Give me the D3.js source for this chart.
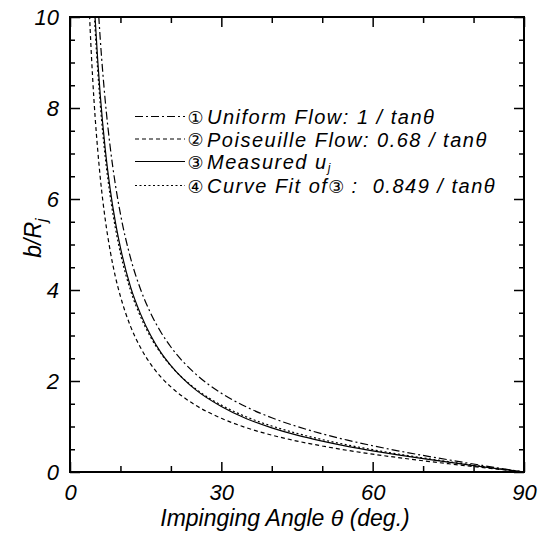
<!DOCTYPE html>
<html><head><meta charset="utf-8">
<script src="https://cdn.jsdelivr.net/npm/d3@7"></script>
<style>
body{margin:0;background:#fff}
text{font-family:"Liberation Sans",Arial,sans-serif;font-style:italic;fill:#000}
</style></head>
<body><svg id="c" width="552" height="537"></svg>
<script>
// Angles (deg.) and b/Rj values
const angles   = [3.5,4,4.5,5,5.5,6,7,8,9,10,12,14,16,18,20,25,30,35,40,45,50,55,60,65,70,75,80,85,90];
const uniform  = [16.35,14.30,12.71,11.43,10.39,9.514,8.144,7.115,6.314,5.671,4.705,4.011,3.487,3.078,2.747,2.145,1.732,1.428,1.192,1.000,0.839,0.700,0.577,0.466,0.364,0.268,0.176,0.087,0];
const poiseuille=[11.12,9.72,8.64,7.77,7.07,6.47,5.54,4.84,4.29,3.86,3.20,2.73,2.37,2.09,1.87,1.46,1.18,0.971,0.810,0.680,0.571,0.476,0.393,0.317,0.247,0.182,0.120,0.059,0];
const measured = [14.2,12.44,11.06,9.94,9.04,8.28,7.08,6.19,5.49,4.93,4.07,3.47,3.00,2.63,2.34,1.80,1.44,1.17,0.97,0.81,0.68,0.565,0.465,0.375,0.292,0.215,0.142,0.07,0];
const curveFit = [13.88,12.14,10.79,9.70,8.82,8.08,6.91,6.04,5.36,4.81,3.99,3.41,2.96,2.61,2.33,1.82,1.47,1.21,1.01,0.849,0.712,0.594,0.490,0.396,0.309,0.227,0.150,0.074,0];

const xMajor = [0,30,60,90];
const xMinor = [10,20,40,50,70,80];
const yMajor = [0,2,4,6,8,10];
const yMinor = [0.5,1,1.5,2.5,3,3.5,4.5,5,5.5,6.5,7,7.5,8.5,9,9.5];

const seriesNames = ["Uniform Flow: 1 / tan\u03B8","Poiseuille Flow: 0.68 / tan\u03B8","Measured u","Curve Fit of"];
const circled = ["\u2460","\u2461","\u2462","\u2463"];

const L=70,R=524,T=17,B=472;
const svg=d3.select("#c");
const x=d3.scaleLinear().domain([0,90]).range([L,R]);
const y=d3.scaleLinear().domain([0,10]).range([B,T]);

svg.append("clipPath").attr("id","clip").append("rect").attr("x",L).attr("y",T).attr("width",R-L).attr("height",B-T);

const series=[
 {v:uniform, dash:"8,3,2,3"},
 {v:poiseuille, dash:"4,3"},
 {v:measured, dash:null},
 {v:curveFit, dash:"2,2.5"}
];
const line=d3.line().x(d=>x(d[0])).y(d=>y(d[1])).curve(d3.curveMonotoneX);
const g=svg.append("g").attr("clip-path","url(#clip)");
series.forEach(s=>{
  g.append("path").datum(angles.map((a,i)=>[a,s.v[i]]))
   .attr("d",line).attr("fill","none").attr("stroke","#000").attr("stroke-width",1.2)
   .attr("stroke-dasharray",s.dash);
});

function ax(gen,tr){
  const a=svg.append("g").attr("transform",tr).call(gen);
  a.select(".domain").remove();
  a.selectAll("line").attr("stroke","#000").attr("stroke-width",1.5);
  a.selectAll("text").style("font-size","22px").attr("fill","#000");
  return a;
}
// bottom
ax(d3.axisBottom(x).tickValues(xMajor).tickSize(-10).tickPadding(12).tickFormat(d3.format("d")),`translate(0,${B})`);
ax(d3.axisBottom(x).tickValues(xMinor).tickSize(-6).tickFormat(""),`translate(0,${B})`);
// top
ax(d3.axisTop(x).tickValues(xMajor).tickSize(-10).tickFormat(""),`translate(0,${T})`);
ax(d3.axisTop(x).tickValues(xMinor).tickSize(-6).tickFormat(""),`translate(0,${T})`);
// left
ax(d3.axisLeft(y).tickValues(yMajor).tickSize(-10).tickPadding(11).tickFormat(d3.format("d")),`translate(${L},0)`);
ax(d3.axisLeft(y).tickValues(yMinor).tickSize(-5).tickFormat(""),`translate(${L},0)`);
// right
ax(d3.axisRight(y).tickValues(yMajor).tickSize(-10).tickFormat(""),`translate(${R},0)`);
ax(d3.axisRight(y).tickValues(yMinor).tickSize(-5).tickFormat(""),`translate(${R},0)`);

svg.append("rect").attr("x",L).attr("y",T).attr("width",R-L).attr("height",B-T)
  .attr("fill","none").attr("stroke","#000").attr("stroke-width",2);

// axis titles
svg.append("text").attr("x",285).attr("y",526).attr("text-anchor","middle").style("font-size","23px")
  .text("Impinging Angle \u03B8 (deg.)");
const yt=svg.append("text").attr("transform","translate(41,238) rotate(-90)").attr("text-anchor","middle").style("font-size","23px");
yt.append("tspan").text("b/R");
yt.append("tspan").attr("dy",6).style("font-size","16px").text("j");

// legend
const rows=[124,146.5,169,193];
series.forEach((s,i)=>{
  const yy=rows[i]-7.5;
  svg.append("line").attr("x1",135).attr("x2",185).attr("y1",yy).attr("y2",yy)
    .attr("stroke","#000").attr("stroke-width",1.2).attr("stroke-dasharray",s.dash);
  svg.append("text").attr("x",195.5).attr("y",rows[i]-0.5).attr("text-anchor","middle")
    .style("font-family","'DejaVu Sans'").style("font-style","normal").style("font-size","18px").text(circled[i]);
  const t=svg.append("text").attr("x",207).attr("y",rows[i]).style("font-size","20px")
    .style("letter-spacing","1.5px").style("white-space","pre");
  t.append("tspan").text(seriesNames[i]);
  if(i===2){ t.append("tspan").attr("dy",3).style("font-size","12px").text("j"); }
  if(i===3){
    t.append("tspan").style("font-family","'DejaVu Sans'").style("font-style","normal").style("font-size","18px").style("letter-spacing","0px").text(circled[2]);
    t.append("tspan").text(" :  0.849 / tan\u03B8");
  }
});
</script></body></html>
